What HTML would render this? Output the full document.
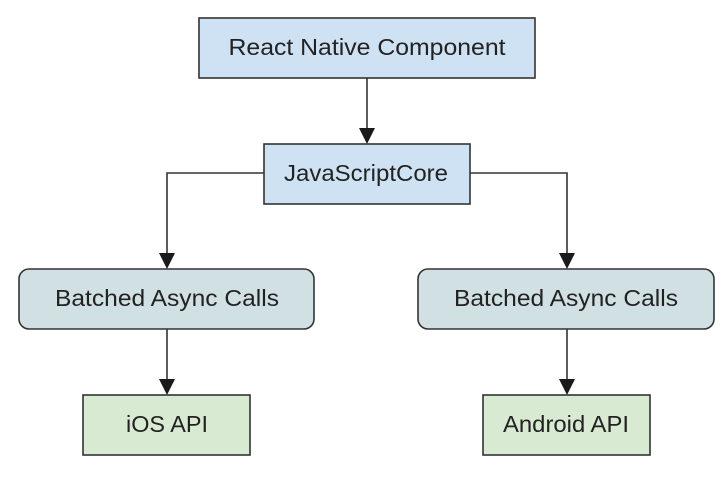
<!DOCTYPE html>
<html><head><style>
html,body{margin:0;padding:0;background:#fff;}
svg text{font-family:"Liberation Sans",sans-serif;font-size:23px;fill:#222;text-anchor:middle;dominant-baseline:central;}
</style></head><body>
<svg width="726" height="474" viewBox="0 0 726 474" xmlns="http://www.w3.org/2000/svg">
<g stroke="#333" stroke-width="1.6" fill="none">
<line x1="367" y1="78" x2="367" y2="130"/>
<polyline points="264,173 167,173 167,255"/>
<polyline points="470,173 567,173 567,255"/>
<line x1="167" y1="329" x2="167" y2="381"/>
<line x1="567" y1="329" x2="567" y2="381"/>
</g>
<g fill="#1a1a1a">
<polygon points="359,128 375,128 367,144"/>
<polygon points="159,253 175,253 167,269"/>
<polygon points="559,253 575,253 567,269"/>
<polygon points="159,379 175,379 167,395"/>
<polygon points="559,379 575,379 567,395"/>
</g>
<g stroke="#333" stroke-width="1.6">
<rect x="199" y="18" width="336" height="60" fill="#cfe2f3"/>
<rect x="264" y="144" width="206" height="60" fill="#cfe2f3"/>
<rect x="19" y="269" width="295" height="60" rx="10" fill="#d0e0e3"/>
<rect x="418" y="269" width="296" height="60" rx="10" fill="#d0e0e3"/>
<rect x="83" y="395" width="167" height="60" fill="#d9ead3"/>
<rect x="483" y="395" width="167" height="60" fill="#d9ead3"/>
</g>
<text x="367" y="47" textLength="277" lengthAdjust="spacingAndGlyphs">React Native Component</text>
<text x="366" y="173" textLength="164" lengthAdjust="spacingAndGlyphs">JavaScriptCore</text>
<text x="167" y="298" textLength="224" lengthAdjust="spacingAndGlyphs">Batched Async Calls</text>
<text x="566" y="298" textLength="224" lengthAdjust="spacingAndGlyphs">Batched Async Calls</text>
<text x="167" y="424" textLength="82" lengthAdjust="spacingAndGlyphs">iOS API</text>
<text x="566" y="424" textLength="126" lengthAdjust="spacingAndGlyphs">Android API</text>
</svg>
</body></html>
